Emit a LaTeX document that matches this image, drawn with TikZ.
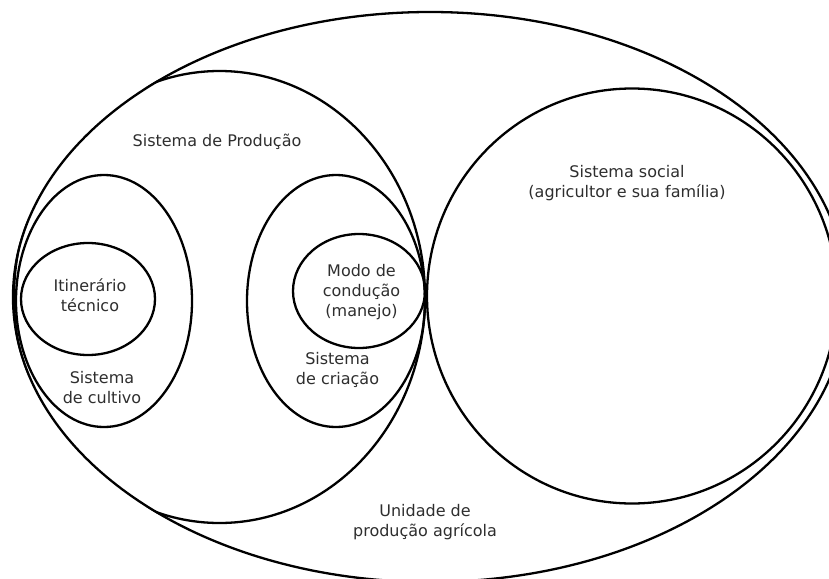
\documentclass[tikz,border=0pt]{standalone}
\usepackage{fontspec}
\setmainfont{DejaVu Sans}
\begin{document}
\begin{tikzpicture}[x=1pt,y=-1pt,
  ring/.style={draw=black,line width=2.3pt},
  lbl/.style={text=black!82,align=center,inner sep=0pt,font=\fontsize{16}{20}\selectfont}]
\useasboundingbox (0,0) rectangle (829,578);
\clip (0,0) rectangle (829,578);
% outer: Unidade de produção agrícola
\draw[ring] (430,297) ellipse [x radius=417, y radius=285];
% Sistema de Produção (kept inside the outer ellipse)
\begin{scope}
  \clip (430,297) ellipse [x radius=418, y radius=286];
  \draw[ring] (219.5,297) ellipse [x radius=205.5, y radius=226];
\end{scope}
% Sistema social
\draw[ring] (632,296) ellipse [x radius=205, y radius=207.5];
% Sistema de cultivo
\draw[ring] (104,301) ellipse [x radius=88, y radius=126];
% Itinerário técnico
\draw[ring] (88,299) ellipse [x radius=67, y radius=56];
% Sistema de criação
\draw[ring] (336,301) ellipse [x radius=89, y radius=126];
% Modo de condução
\draw[ring] (359,291) ellipse [x radius=66, y radius=57];

\node[lbl] (prod) at (217,142) {Sistema de Produção};
\node[lbl] (social) at (627,183) {Sistema social\\(agricultor e sua família)};
\node[lbl] (itin) at (90,295.5) {Itinerário\\técnico};
\node[lbl] (cult) at (102,387.5) {Sistema\\de cultivo};
\node[lbl] (modo) at (361.5,292) {Modo de\\condução\\(manejo)};
\node[lbl] (cria) at (337.5,370) {Sistema\\de criação};
\node[lbl] (unid) at (425,522.5) {Unidade de\\produção agrícola};
\end{tikzpicture}
\end{document}
